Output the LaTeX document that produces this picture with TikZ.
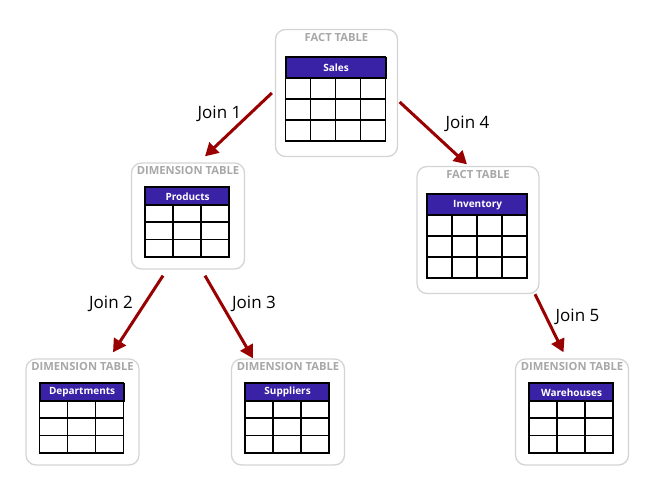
\documentclass[tikz,border=0pt]{standalone}
\usepackage{fontspec}
\setmainfont{Open Sans}
\usetikzlibrary{calc}
\usetikzlibrary{arrows.meta}
\usepackage{xcolor}

\definecolor{joinred}{RGB}{153,0,0}
\definecolor{headblue}{RGB}{58,34,166}
\definecolor{boxgray}{RGB}{212,212,212}
\definecolor{kindgray}{RGB}{168,168,168}

% #1 name, #2 centre, #3 kind, #4 title, #5 box width, #6 box height, #7 columns, #8 cell width, #9 cell height
\newcommand{\schematable}[9]{%
\node[tablebox, minimum width=#5pt, minimum height=#6pt] (#1) at #2 {};
\node[kindlabel] (#1-kind) at ([yshift=-8.5pt]#1.north) {#3};
\pgfmathsetmacro{\tw}{#7*#8}
\pgfmathtruncatemacro{\lastcol}{#7-1}
\coordinate (#1-tl) at ($(#1.center)+({-1-\tw/2},{6-2*#9})$);
\node[headcell, minimum width=\tw pt, minimum height=#9pt, anchor=north west] (#1-head) at (#1-tl) {#4};
\draw[gridline] (#1-tl) rectangle ++(\tw,4*#9);
\foreach \r in {1,2,3} \draw[gridline] (#1-tl) ++(0,\r*#9) -- ++(\tw,0);
\foreach \c in {1,...,\lastcol} \draw[gridline] (#1-tl) ++(\c*#8,#9) -- ++(0,3*#9);
}

\begin{document}
\begin{tikzpicture}[x=1pt, y=-1pt,
  tablebox/.style={draw=boxgray, line width=1.3pt, rounded corners=10pt, fill=white},
  kindlabel/.style={text=kindgray, font=\fontsize{11.2}{12}\selectfont\bfseries, inner sep=0pt},
  headcell/.style={draw=black, line width=1.2pt, fill=headblue, text=white, inner sep=0pt, font=\fontsize{10}{11}\selectfont\bfseries},
  gridline/.style={black, line width=1.2pt},
  joinarrow/.style={joinred, line width=3pt, -{Triangle[length=13pt,width=14pt]}},
  joinlabel/.style={font=\fontsize{17}{20}\selectfont, inner sep=0pt}]
\useasboundingbox (0,0) rectangle (655,498);

\schematable{sales}{(336.5,93)}{FACT TABLE}{Sales}{122}{127}{4}{25}{21}
\schematable{inventory}{(478,230)}{FACT TABLE}{Inventory}{122}{127}{4}{25}{21}
\schematable{products}{(188,216)}{DIMENSION TABLE}{Products}{113}{106}{3}{28}{17.5}
\schematable{departments}{(82.5,412)}{DIMENSION TABLE}{Departments}{113}{106}{3}{28}{17.5}
\schematable{suppliers}{(288,412)}{DIMENSION TABLE}{Suppliers}{113}{106}{3}{28}{17.5}
\schematable{warehouses}{(572,412)}{DIMENSION TABLE}{Warehouses}{113}{106}{3}{28}{17.5}

% joins
\draw[joinarrow] ([xshift=-3pt]sales.west) -- ([xshift=17pt,yshift=6pt]products.north);
\draw[joinarrow] ([xshift=1.5pt,yshift=-9pt]sales.east) -- ([xshift=-11pt,yshift=1.5pt]inventory.north);
\draw[joinarrow] ([xshift=-25pt,yshift=-6pt]products.south) -- ([xshift=30.5pt,yshift=6pt]departments.north);
\draw[joinarrow] ([xshift=17pt,yshift=-6pt]products.south) -- ([xshift=-35pt]suppliers.north);
\draw[joinarrow] ([xshift=57pt]inventory.south) -- ([xshift=-8.5pt,yshift=6pt]warehouses.north);

\node[joinlabel, anchor=base] (join1) at (219.5,118) {Join 1};
\node[joinlabel, anchor=base] (join4) at (467.5,128.5) {Join 4};
\node[joinlabel, anchor=base] (join2) at (111,308) {Join 2};
\node[joinlabel, anchor=base] (join3) at (254,308) {Join 3};
\node[joinlabel, anchor=base] (join5) at (577.5,321) {Join 5};
\end{tikzpicture}
\end{document}
